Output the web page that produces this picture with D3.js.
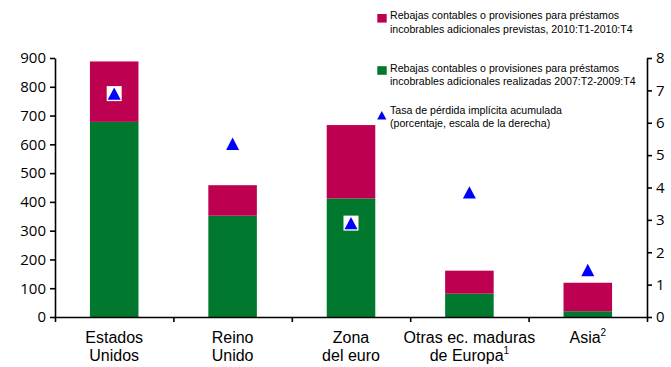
<!DOCTYPE html>
<html>
<head>
<meta charset="utf-8">
<script src="https://cdn.jsdelivr.net/npm/d3@7"></script>
<style>
  html, body { margin: 0; padding: 0; background: #fff; }
  svg { display: block; }
</style>
</head>
<body>
<svg id="chart" width="671" height="367"></svg>
<script>
// ---- Data ----
const categories = ["Estados Unidos", "Reino Unido", "Zona del euro", "Otras ec. maduras de Europa", "Asia"];
const labelLines = [["Estados", "Unidos"], ["Reino", "Unido"], ["Zona", "del euro"], ["Otras ec. maduras", "de Europa"], ["Asia"]];
const labelSup = [null, null, null, "1", "2"]; // superscript attached to last line
const realizadas = [678, 352, 412, 81, 20];      // 2007:T2-2009:T4 (green)
const previstas = [210, 106, 255, 80, 99];        // 2010:T1-2010:T4 (magenta, stacked)
const tasaPerdida = [6.9, 5.35, 2.9, 3.85, 1.45]; // right scale, %
const leftTicks = [0, 100, 200, 300, 400, 500, 600, 700, 800, 900];
const rightTicks = [0, 1, 2, 3, 4, 5, 6, 7, 8];
const legendItems = [
  { key: "previstas", lines: ["Rebajas contables o provisiones para préstamos", "incobrables adicionales previstas, 2010:T1-2010:T4"] },
  { key: "realizadas", lines: ["Rebajas contables o provisiones para préstamos", "incobrables adicionales realizadas 2007:T2-2009:T4"] },
  { key: "tasa", lines: ["Tasa de pérdida implícita acumulada", "(porcentaje, escala de la derecha)"] }
];

// ---- Styles ----
const GREEN = "#00782D";
const MAGENTA = "#BE0050";
const BLUE = "#0000FF";
const tickFont = "'Open Sans', sans-serif";
const textFont = "'Liberation Sans', Arial, sans-serif";

const svg = d3.select("#chart");
const pLeft = 55, pRight = 647, pTop = 58, pBottom = 317;

const x = d3.scaleBand().domain(categories).range([pLeft, pRight]).paddingInner(0.59).paddingOuter(0.295);
const yL = d3.scaleLinear().domain([0, 900]).range([pBottom, pTop]);
const yR = d3.scaleLinear().domain([0, 8]).range([pBottom, pTop]);

const rows = categories.map((c, i) => ({ cat: c, realizadas: realizadas[i], previstas: previstas[i] }));
const stack = d3.stack().keys(["realizadas", "previstas"])(rows);
const colors = { realizadas: GREEN, previstas: MAGENTA };

// Bars
svg.append("g").selectAll("g").data(stack).join("g")
  .attr("fill", d => colors[d.key])
  .selectAll("rect").data(d => d).join("rect")
  .attr("x", d => x(d.data.cat))
  .attr("width", x.bandwidth())
  .attr("y", d => yL(d[1]))
  .attr("height", d => yL(d[0]) - yL(d[1]));

// Triangles (with white marker box as in original)
const triPath = "M0,-6.2L6.5,6.2L-6.5,6.2Z";
const mk = svg.append("g").selectAll("g").data(tasaPerdida).join("g")
  .attr("transform", (d, i) => `translate(${x(categories[i]) + x.bandwidth() / 2},${yR(d)})`);
mk.append("rect").attr("x", -7.5).attr("y", -7.5).attr("width", 15).attr("height", 15).attr("fill", "#fff");
mk.append("path").attr("d", triPath).attr("fill", BLUE);

// Left axis
const gL = svg.append("g").attr("transform", `translate(${pLeft},0)`)
  .call(d3.axisLeft(yL).tickValues(leftTicks).tickSize(5).tickSizeOuter(0).tickPadding(4));
// Right axis
const gR = svg.append("g").attr("transform", `translate(${pRight},0)`)
  .call(d3.axisRight(yR).tickValues(rightTicks).tickSize(5).tickSizeOuter(0).tickPadding(4));
[gL, gR].forEach(g => {
  g.select(".domain").attr("stroke", "#000").attr("stroke-width", 1.6);
  g.selectAll(".tick line").attr("stroke", "#000").attr("stroke-width", 1.6);
  g.selectAll(".tick text").attr("font-family", tickFont).attr("font-size", 15).attr("fill", "#000");
});

// Bottom axis: ticks at category boundaries
const xb = d3.scaleLinear().domain([0, categories.length]).range([pLeft, pRight]);
const gB = svg.append("g").attr("transform", `translate(0,${pBottom})`)
  .call(d3.axisBottom(xb).tickValues(d3.range(categories.length + 1)).tickFormat("").tickSize(5).tickSizeOuter(0));
gB.select(".domain").attr("stroke", "#000").attr("stroke-width", 1.6);
gB.selectAll(".tick line").attr("stroke", "#000").attr("stroke-width", 1.6);

// Category labels
const cl = svg.append("g").attr("font-family", textFont).attr("font-size", 16).attr("fill", "#000").attr("text-anchor", "middle");
labelLines.forEach((lines, i) => {
  const cx = x(categories[i]) + x.bandwidth() / 2;
  lines.forEach((ln, j) => {
    const t = cl.append("text").attr("x", cx).attr("y", 343 + j * 18.3);
    t.append("tspan").text(ln);
    if (j === lines.length - 1 && labelSup[i]) {
      t.append("tspan").attr("font-size", 10).attr("dy", -7).text(labelSup[i]);
    }
  });
});

// Legend
const lg = svg.append("g").attr("font-family", textFont).attr("font-size", 10.6).attr("fill", "#000");
const legendY = [19.3, 71.5, 114];
legendItems.forEach((it, i) => {
  const by = legendY[i];
  if (it.key === "tasa") {
    lg.append("path").attr("d", "M0,-4.3L4.6,4.3L-4.6,4.3Z")
      .attr("transform", `translate(381.8,${by + 1.2})`).attr("fill", BLUE);
  } else {
    lg.append("rect").attr("x", 377.3).attr("y", by - 5.3).attr("width", 9.4).attr("height", 8.6)
      .attr("fill", colors[it.key]);
  }
  it.lines.forEach((ln, j) => {
    lg.append("text").attr("x", 390).attr("y", by + j * 13.4).text(ln);
  });
});
</script>
</body>
</html>
